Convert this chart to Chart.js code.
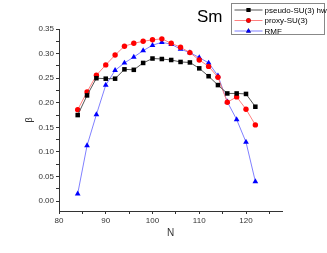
<!DOCTYPE html>
<html>
<head>
<meta charset="utf-8">
<script src="https://cdn.jsdelivr.net/npm/chart.js@4"></script>
<style>
  html, body { margin: 0; padding: 0; background: #fff; }
  #wrap { width: 327px; height: 253px; position: relative; }
</style>
</head>
<body>
<div id="wrap"><canvas id="betaChart"></canvas></div>
<script>
// Data
const neutrons = [84, 86, 88, 90, 92, 94, 96, 98, 100, 102, 104, 106, 108, 110, 112, 114, 116, 118, 120, 122];
const pseudoSU3 = [0.175, 0.215, 0.250, 0.249, 0.249, 0.268, 0.267, 0.281, 0.290, 0.289, 0.287, 0.283, 0.282, 0.270, 0.254, 0.236, 0.219, 0.219, 0.218, 0.192];
const proxySU3 = [0.186, 0.222, 0.256, 0.277, 0.297, 0.315, 0.321, 0.325, 0.328, 0.330, 0.321, 0.313, 0.302, 0.287, 0.274, 0.252, 0.201, 0.212, 0.187, 0.155];
const rmf = [0.015, 0.113, 0.176, 0.236, 0.266, 0.281, 0.293, 0.306, 0.317, 0.323, 0.319, 0.309, 0.302, 0.292, 0.281, 0.255, 0.202, 0.166, 0.120, 0.040];
const seriesNames = ['pseudo-SU(3) hw', 'proxy-SU(3)', 'RMF'];
const xTicks = [80, 85, 90, 95, 100, 105, 110, 115, 120, 125];
const yTicks = [0, 0.025, 0.05, 0.075, 0.1, 0.125, 0.15, 0.175, 0.2, 0.225, 0.25, 0.275, 0.3, 0.325, 0.35];

const FONT = '"Liberation Sans", Arial, sans-serif';

const toPoints = ys => neutrons.map((n, i) => ({ x: n, y: ys[i] }));

// Draw the boxed legend and the "Sm" label in the top right
const legendBox = {
    id: 'legendBox',
    afterDraw(chart) {
        const ctx = chart.ctx;
        ctx.save();
        ctx.fillStyle = '#000';
        ctx.font = '17px ' + FONT;
        ctx.textBaseline = 'middle';
        ctx.fillText('Sm', 197, 17);

        const bx = 231.5, by = 3.5, bw = 93, bh = 31;
        ctx.strokeStyle = '#888';
        ctx.lineWidth = 1;
        ctx.strokeRect(bx, by, bw, bh);

        chart.data.datasets.forEach((ds, i) => {
            const y = by + 6.5 + i * 10.5;
            ctx.strokeStyle = ds.borderColor;
            ctx.lineWidth = 1;
            ctx.beginPath();
            ctx.moveTo(bx + 3, y);
            ctx.lineTo(bx + 31, y);
            ctx.stroke();
            Chart.helpers.drawPoint(ctx, {
                pointStyle: ds.pointStyle,
                radius: ds.pointRadius * 0.85,
                borderWidth: 0,
                rotation: 0
            }, bx + 17, y);
            ctx.fillStyle = ds.pointBackgroundColor;
            ctx.fill();
            ctx.fillStyle = '#000';
            ctx.font = '8px ' + FONT;
            ctx.fillText(ds.label, bx + 33, y + 0.5);
        });
        ctx.restore();
    }
};

new Chart(document.getElementById('betaChart').getContext('2d'), {
    type: 'line',
    data: {
        datasets: [
            {
                label: seriesNames[0],
                data: toPoints(pseudoSU3),
                borderColor: '#555555',
                borderWidth: 1,
                pointStyle: 'rect',
                pointRadius: 3.2,
                pointBackgroundColor: '#000000',
                pointBorderWidth: 0
            },
            {
                label: seriesNames[1],
                data: toPoints(proxySU3),
                borderColor: '#ff8080',
                borderWidth: 1,
                pointStyle: 'circle',
                pointRadius: 2.7,
                pointBackgroundColor: '#ff0000',
                pointBorderWidth: 0
            },
            {
                label: seriesNames[2],
                data: toPoints(rmf),
                borderColor: '#8080ff',
                borderWidth: 1,
                pointStyle: 'triangle',
                pointRadius: 3.3,
                pointBackgroundColor: '#0000ff',
                pointBorderWidth: 0
            }
        ]
    },
    options: {
        responsive: true,
        maintainAspectRatio: false,
        animation: false,
        layout: { padding: { top: 29, right: 45, left: 0, bottom: 0 } },
        plugins: {
            legend: { display: false },
            tooltip: { enabled: false }
        },
        scales: {
            x: {
                type: 'linear',
                min: 80,
                max: 127.7,
                afterBuildTicks: axis => { axis.ticks = xTicks.map(v => ({ value: v })); },
                afterFit: axis => { axis.height = 42; },
                ticks: {
                    autoSkip: false,
                    maxRotation: 0,
                    padding: 2,
                    color: '#333',
                    font: { family: FONT, size: 8 },
                    callback: v => (v % 10 === 0 ? String(v) : '')
                },
                grid: {
                    drawOnChartArea: false,
                    tickLength: 3,
                    color: '#333'
                },
                border: { color: '#333', width: 1 },
                title: {
                    display: true,
                    text: 'N',
                    color: '#333',
                    font: { family: FONT, size: 10 },
                    padding: { top: 4, bottom: 14 }
                }
            },
            y: {
                min: -0.02,
                max: 0.35,
                afterBuildTicks: axis => { axis.ticks = yTicks.map(v => ({ value: v })); },
                afterFit: axis => { axis.width = 59; },
                ticks: {
                    autoSkip: false,
                    padding: 2,
                    color: '#333',
                    font: { family: FONT, size: 8 },
                    callback: v => (Math.round(v * 1000) % 50 === 0 ? v.toFixed(2) : '')
                },
                grid: {
                    drawOnChartArea: false,
                    tickLength: 3,
                    color: '#333'
                },
                border: { color: '#333', width: 1 },
                title: {
                    display: true,
                    text: 'β',
                    color: '#333',
                    font: { family: FONT, size: 9 },
                    padding: { top: 24, bottom: 4 }
                }
            }
        }
    },
    plugins: [legendBox]
});
</script>
</body>
</html>
